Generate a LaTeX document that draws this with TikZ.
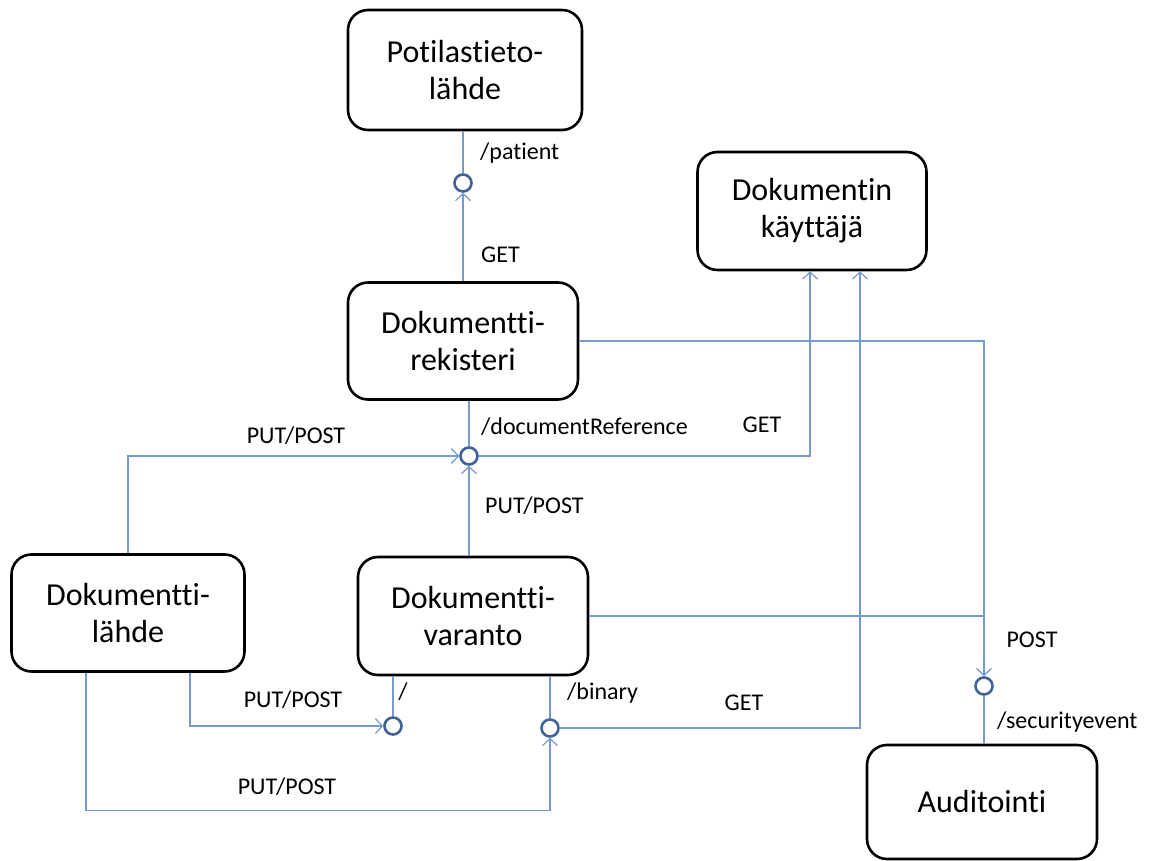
\documentclass[tikz,border=0pt]{standalone}
\usepackage{fontspec}
\setmainfont{Carlito}[Ligatures=NoCommon]
\usetikzlibrary{arrows.meta}
\definecolor{lineblue}{RGB}{118,153,206}
\definecolor{portblue}{RGB}{63,99,150}
\begin{document}
\begin{tikzpicture}[x=1pt,y=-1pt,
  comp/.style={draw=black,line width=2.6pt,rounded corners=20pt,fill=white,
    minimum width=230pt,minimum height=117pt,align=center,
    font=\fontsize{32}{37}\selectfont},
  port/.style={circle,draw=portblue,line width=2.6pt,fill=white,
    minimum size=17pt,inner sep=0pt},
  link/.style={draw=lineblue,line width=1.2pt},
  call/.style={link,-{Straight Barb[length=7pt,width=15pt,line width=1.2pt]}},
  lbl/.style={font=\fontsize{24}{27}\selectfont,inner sep=0pt}]
\useasboundingbox (0,0) rectangle (1149,861);

% components
\node[comp,minimum width=234pt,minimum height=120pt] (pot) at (465,70) {Potilastieto-\\lähde};
\node[comp,minimum width=229pt,minimum height=118pt] (kay) at (812,211) {Dokumentin\\käyttäjä};
\node[comp] (rek) at (463,341) {Dokumentti-\\rekisteri};
\node[comp,minimum width=233pt] (lah) at (128,613) {Dokumentti-\\lähde};
\node[comp,minimum height=118pt] (var) at (473,616) {Dokumentti-\\varanto};
\node[comp,minimum height=114pt] (aud) at (982,802) {Auditointi};

% interface ports
\node[port] (cpat) at (463,183) {};
\node[port] (cref) at (469,456) {};
\node[port] (croot) at (393,726) {};
\node[port] (cbin) at (550,728) {};
\node[port] (csec) at (984,686) {};

% provided interfaces
\draw[link] (cpat |- pot.south) -- (cpat);
\draw[link] (cref |- rek.south) -- (cref);
\draw[link] (croot |- var.south) -- (croot);
\draw[link] (cbin |- var.south) -- (cbin);
\draw[link] (csec) -- (csec |- aud.north);

% calls
\draw[call] (cpat |- rek.north) -- (cpat);
\draw[call] (lah.north) |- (cref);
\draw[call] (cref |- var.north) -- (cref);
\draw[call] (cref) -| ([xshift=-2pt]kay.south);
\draw[call] (cbin) -| ([xshift=48pt]kay.south);
\draw[call] (rek.east) -| (csec);
\draw[link] (var.east) -- (var.east -| csec);
\draw[call] ([xshift=62pt]lah.south) |- (croot);
\draw[call] ([xshift=-42pt]lah.south) -- ++(0,138) -| (cbin);

% labels
\node[lbl,anchor=west] (lpat) at (480,153) {/patient};
\node[lbl,anchor=west] (lget1) at (481,255) {GET};
\node[lbl,anchor=west] (lref) at (481,427) {/documentReference};
\node[lbl] (lpp1) at (296,436) {PUT/POST};
\node[lbl] (lget2) at (762,425) {GET};
\node[lbl,anchor=west] (lpp2) at (485,506) {PUT/POST};
\node[lbl] (lpost) at (1032,640) {POST};
\node[lbl,anchor=west] (lsec) at (997,722) {/securityevent};
\node[lbl] (lpp3) at (293,700) {PUT/POST};
\node[lbl] (lroot) at (403,692) {/};
\node[lbl,anchor=west] (lbin) at (567,693) {/binary};
\node[lbl] (lget3) at (744,703) {GET};
\node[lbl] (lpp4) at (287,787) {PUT/POST};
\end{tikzpicture}
\end{document}
